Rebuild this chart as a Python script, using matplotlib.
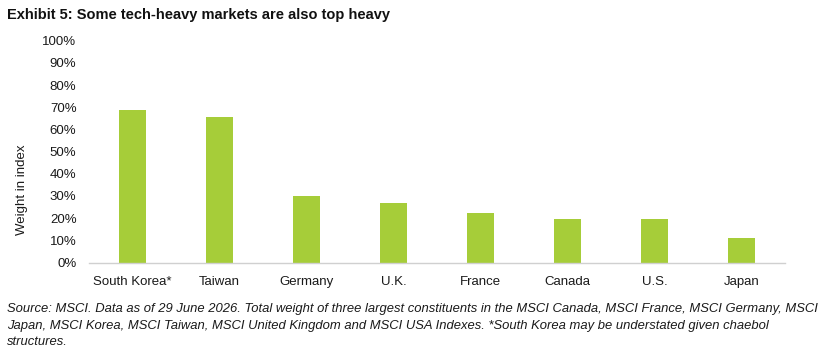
import numpy as np
import matplotlib.pyplot as plt
from matplotlib.ticker import PercentFormatter

# Data
countries = ['South Korea*', 'Taiwan', 'Germany', 'U.K.', 'France', 'Canada', 'U.S.', 'Japan']
weights = [68.8, 65.6, 30.1, 26.7, 22.4, 19.7, 19.5, 11.0]
y_ticks = np.arange(0, 101, 10)

title = 'Exhibit 5: Some tech-heavy markets are also top heavy'
footnote = ('Source: MSCI. Data as of 29 June 2026. Total weight of three largest constituents in the MSCI Canada, MSCI France, MSCI Germany, MSCI\n'
            'Japan, MSCI Korea, MSCI Taiwan, MSCI United Kingdom and MSCI USA Indexes. *South Korea may be understated given chaebol\n'
            'structures.')

plt.rcParams['font.family'] = ['Liberation Sans', 'DejaVu Sans']

W, H = 824, 355
fig = plt.figure(figsize=(W / 100, H / 100), dpi=100)
ax = fig.add_axes([89 / W, 1 - 262.5 / H, (785 - 89) / W, (262.5 - 40.7) / H])

x = np.arange(len(countries))
ax.bar(x, weights, width=0.32, color='#A6CD39', zorder=2)

ax.set_xlim(-0.5, len(countries) - 0.5)
ax.set_ylim(0, 100)
ax.set_yticks(y_ticks)
ax.yaxis.set_major_formatter(PercentFormatter(decimals=0))
ax.set_xticks(x)
ax.set_xticklabels(countries)
ax.tick_params(axis='both', length=0, labelsize=9.5, colors='#1a1a1a')
ax.tick_params(axis='x', pad=10)
ax.tick_params(axis='y', pad=9)

for s in ['top', 'right', 'left']:
    ax.spines[s].set_visible(False)
ax.spines['bottom'].set_color('#d0d0d0')
ax.spines['bottom'].set_linewidth(1)

fig.text(22 / W, 1 - 190 / H, 'Weight in index', rotation=90, ha='center', va='center',
         fontsize=9.5, color='#1a1a1a')

fig.text(7 / W, 1 - 15 / H, title, fontsize=10.5, fontweight='bold', ha='left', va='center',
         color='#111111')

fig.text(7 / W, 1 - 303 / H, footnote, fontsize=9.4, style='italic', ha='left', va='top',
         linespacing=1.5, color='#1a1a1a')

fig.savefig('out.png', dpi=100)
